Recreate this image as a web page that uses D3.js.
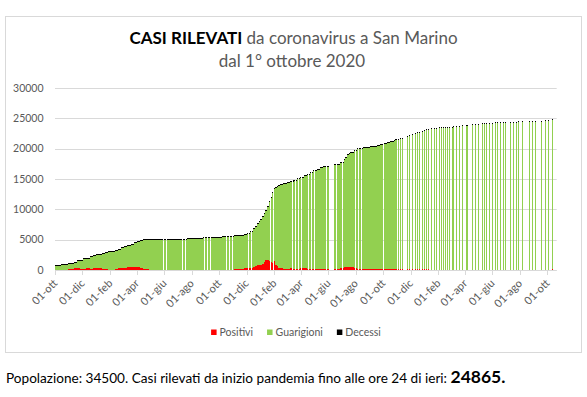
<!DOCTYPE html>
<html>
<head>
<meta charset="utf-8">
<script src="https://cdn.jsdelivr.net/npm/d3@7"></script>
<style>
  body { margin: 0; background: #fff; }
  svg { display: block; font-family: Lato, sans-serif; }
</style>
</head>
<body>
<div id="chart"></div>
<script>
// --- bollettini giornalieri (campioni settimanali, ogni barra copre fino al campione successivo)
const giornDate = [
  '2020-10-01','2020-10-08','2020-10-15','2020-10-22','2020-10-29','2020-11-05','2020-11-12','2020-11-19','2020-11-26','2020-12-03','2020-12-10','2020-12-17','2020-12-24','2020-12-31',
  '2021-01-07','2021-01-14','2021-01-21','2021-01-28','2021-02-04','2021-02-11','2021-02-18','2021-02-25','2021-03-04','2021-03-11','2021-03-18','2021-03-25','2021-04-01','2021-04-08','2021-04-15','2021-04-22','2021-04-29',
  '2021-05-13','2021-05-27','2021-06-10','2021-06-24','2021-07-08','2021-07-22','2021-07-29','2021-08-05','2021-08-19','2021-08-26','2021-09-09','2021-09-23','2021-09-30','2021-10-07','2021-10-14','2021-10-21','2021-10-28',
  '2021-11-04','2021-11-11','2021-11-18','2021-11-25','2021-12-02','2021-12-09','2021-12-16','2021-12-20','2021-12-24','2021-12-28','2021-12-31',
  '2022-01-04','2022-01-08','2022-01-12','2022-01-15','2022-01-19','2022-01-23','2022-01-26','2022-01-30','2022-02-03','2022-02-06','2022-02-10','2022-02-14','2022-02-21',
  '2022-03-01','2022-03-08','2022-03-15','2022-03-23','2022-03-30','2022-04-07','2022-04-14','2022-04-22','2022-04-29','2022-05-06','2022-05-14','2022-05-21',
  '2022-06-13','2022-06-20','2022-06-27','2022-07-05','2022-07-08','2022-07-12','2022-07-16','2022-07-20','2022-07-27',
  '2022-08-03','2022-08-11','2022-08-18','2022-08-26','2022-09-02','2022-09-09','2022-09-17','2022-09-24','2022-10-02','2022-10-09','2022-10-17','2022-10-24','2022-10-28'
];
const giornTotali = [
  740, 760, 790, 880, 1000, 1090, 1250, 1460, 1600, 1820, 1930, 2200, 2330, 2480,
  2610, 2780, 2890, 3010, 3110, 3250, 3420, 3620, 3830, 4060, 4270, 4480, 4700, 4900, 5010, 5030, 5040,
  5050, 5060, 5070, 5080, 5090, 5120, 5190, 5200, 5230, 5300, 5320, 5340, 5420, 5470, 5470, 5480, 5500,
  5690, 5710, 5750, 5850, 6070, 6400, 6840, 7200, 7610, 7950, 8320,
  8800, 9310, 9900, 10520, 11300, 12000, 12780, 13440, 13650, 13810, 13930, 14040, 14210,
  14370, 14590, 14800, 15030, 15300, 15530, 15790, 16120, 16400, 16620, 16850, 17010,
  17390, 17500, 17830, 18220, 18600, 19040, 19300, 19480, 19810,
  19980, 20080, 20190, 20240, 20360, 20410, 20570, 20690, 20850, 21020, 21230, 21400, 21510
];
const giornPositivi = [
  30, 40, 50, 80, 150, 220, 280, 250, 130, 240, 260, 150, 260, 250,
  260, 200, 90, 80, 80, 90, 280, 290, 300, 450, 470, 460, 450, 380, 120, 90, 30,
  15, 10, 10, 10, 15, 20, 25, 30, 30, 40, 30, 30, 40, 40, 40, 50, 60,
  100, 150, 200, 280, 350, 380, 550, 650, 800, 820, 850,
  1050, 1300, 1700, 1650, 1450, 1250, 1200, 1500, 900, 600, 350, 250, 200,
  230, 250, 240, 220, 250, 260, 240, 230, 220, 200, 180, 150,
  120, 200, 350, 480, 520, 550, 500, 450, 300,
  220, 180, 150, 130, 120, 130, 150, 170, 200, 190, 180, 170, 160
];
const giornDecessi = [
  42, 42, 42, 43, 44, 46, 48, 50, 52, 55, 57, 58, 60, 62,
  64, 66, 68, 70, 71, 72, 73, 74, 76, 79, 82, 85, 87, 88, 89, 90, 90,
  90, 90, 90, 90, 90, 90, 90, 90, 90, 90, 90, 90, 90, 90, 90, 90, 90,
  90, 90, 91, 91, 92, 92, 93, 93, 94, 95, 96,
  97, 98, 99, 100, 101, 102, 103, 104, 105, 105, 106, 106, 107,
  108, 108, 109, 109, 110, 110, 111, 111, 112, 112, 113, 113,
  113, 114, 114, 115, 115, 115, 116, 116, 116,
  117, 117, 117, 117, 118, 118, 118, 118, 119, 119, 119, 120, 120
];
const fineGiornalieri = '2022-11-01';
// giorni senza bollettino nel periodo giornaliero
const senzaBollettino = [
  '2021-05-30','2021-06-06','2021-07-11','2021-07-18','2021-08-29','2021-09-05','2021-09-12',
  '2021-10-17','2021-10-24','2021-10-31','2021-12-05','2021-12-12','2022-01-23','2022-01-30',
  '2022-03-13','2022-03-20','2022-03-27','2022-04-03','2022-04-10','2022-04-17','2022-04-24',
  '2022-05-01','2022-05-08','2022-05-15','2022-05-22','2022-05-29',
  '2022-06-03','2022-06-04','2022-06-05','2022-06-06','2022-06-07','2022-06-08','2022-06-09','2022-06-10','2022-06-11','2022-06-12',
  '2022-06-19','2022-07-03','2022-07-10','2022-07-31','2022-08-07','2022-08-14','2022-09-18','2022-09-25','2022-10-02'
];

// --- bollettini settimanali (da novembre 2022)
const settDate = [
  '2022-11-04','2022-11-08','2022-11-11','2022-11-23','2022-11-28','2022-12-05','2022-12-10','2022-12-15','2022-12-19','2022-12-26','2022-12-30',
  '2023-01-04','2023-01-09','2023-01-16','2023-01-22','2023-01-27','2023-02-02','2023-02-06','2023-02-10','2023-02-15','2023-02-16','2023-02-20','2023-02-24',
  '2023-03-02','2023-03-06','2023-03-12','2023-03-19','2023-03-25','2023-04-04','2023-04-05','2023-04-17','2023-04-24','2023-04-30',
  '2023-05-08','2023-05-13','2023-05-18','2023-05-25','2023-05-30','2023-06-06','2023-06-12','2023-06-18','2023-06-24','2023-06-29',
  '2023-07-11','2023-07-17','2023-07-24','2023-07-29','2023-08-05','2023-08-22','2023-08-28','2023-09-04','2023-09-18','2023-09-25',
  '2023-10-03','2023-10-11'
];
const settTotali = [
  21560, 21650, 21740, 22120, 22200, 22450, 22520, 22720, 22760, 22950, 23050,
  23130, 23200, 23440, 23440, 23440, 23450, 23450, 23460, 23600, 23600, 23600, 23610,
  23610, 23620, 23630, 23770, 23780, 23870, 23870, 23980, 24020, 24100,
  24260, 24260, 24270, 24270, 24270, 24280, 24280, 24280, 24290, 24290,
  24300, 24430, 24430, 24440, 24440, 24450, 24450, 24460, 24590, 24620,
  24760, 24865
];
const settPositivi = [
  150, 140, 130, 130, 120, 130, 120, 120, 110, 120, 110,
  100, 100, 40, 40, 40, 40, 40, 40, 40, 40, 40, 40,
  40, 40, 40, 40, 40, 40, 40, 40, 40, 40,
  40, 40, 40, 40, 40, 40, 40, 40, 40, 40,
  40, 40, 40, 40, 40, 40, 40, 40, 40, 40,
  40, 110
];
const settDecessi = [
  120, 120, 120, 120, 120, 120, 121, 121, 121, 121, 121,
  121, 122, 122, 122, 122, 122, 122, 122, 122, 122, 122, 123,
  123, 123, 123, 123, 123, 123, 123, 124, 124, 124,
  124, 124, 124, 124, 124, 125, 125, 125, 125, 125,
  125, 125, 125, 125, 125, 126, 126, 126, 126, 126,
  126, 126
];

const serie = ['positivi', 'guarigioni', 'decessi'];
const serieNomi = ['Positivi', 'Guarigioni', 'Decessi'];
const colori = ['#ff0000', '#92d050', '#000000'];
const yTicks = [0, 5000, 10000, 15000, 20000, 25000, 30000];
const mesiBrevi = ['gen', 'feb', 'mar', 'apr', 'mag', 'giu', 'lug', 'ago', 'set', 'ott', 'nov', 'dic'];
const dataInizio = '2020-10-01';
const dataFine = '2023-10-22';
const popolazione = 34500;
const casiTotali = 24865;

// ---------------------------------------------------------------
[[giornDate, giornTotali, giornPositivi, giornDecessi], [settDate, settTotali, settPositivi, settDecessi]]
  .forEach((g) => {
    if (g.some((a) => a.length !== g[0].length)) throw new Error('lunghezze diverse: ' + g.map((a) => a.length));
  });

const W = 587, H = 397;
const plot = { left: 55, right: 556.7, top: 88, bottom: 270 };
const parse = d3.utcParse('%Y-%m-%d');
const fmtDay = d3.utcFormat('%Y-%m-%d');
const locale = d3.timeFormatLocale({
  dateTime: '%A %e %B %Y, %X', date: '%d/%m/%Y', time: '%H:%M:%S', periods: ['AM', 'PM'],
  days: ['domenica', 'lunedì', 'martedì', 'mercoledì', 'giovedì', 'venerdì', 'sabato'],
  shortDays: ['dom', 'lun', 'mar', 'mer', 'gio', 'ven', 'sab'],
  months: ['gennaio', 'febbraio', 'marzo', 'aprile', 'maggio', 'giugno', 'luglio', 'agosto', 'settembre', 'ottobre', 'novembre', 'dicembre'],
  shortMonths: mesiBrevi,
});
const fmtTick = locale.utcFormat('%d-%b');

// records: one per run of consecutive reported days
const records = [];
const skip = new Set(senzaBollettino);
const rec = (s, e, tot, pos, dec) =>
  records.push({ start: s, end: e, positivi: pos, guarigioni: tot - pos - dec, decessi: dec });

giornDate.forEach((ds, i) => {
  const start = parse(ds);
  const end = parse(i < giornDate.length - 1 ? giornDate[i + 1] : fineGiornalieri);
  let runStart = null;
  for (let d = start; d < end; d = d3.utcDay.offset(d, 1)) {
    if (skip.has(fmtDay(d))) {
      if (runStart) { rec(runStart, d, giornTotali[i], giornPositivi[i], giornDecessi[i]); runStart = null; }
    } else if (!runStart) runStart = d;
  }
  if (runStart) rec(runStart, end, giornTotali[i], giornPositivi[i], giornDecessi[i]);
});
settDate.forEach((ds, i) => {
  const d = parse(ds);
  rec(d, d3.utcDay.offset(d, 1), settTotali[i], settPositivi[i], settDecessi[i]);
});

const x = d3.scaleUtc().domain([parse(dataInizio), parse(dataFine)]).range([plot.left, plot.right]);
const y = d3.scaleLinear().domain([0, 30000]).range([plot.bottom, plot.top]);

// pixel edges, at least 1px wide and 1px apart where a day is missing
records.forEach((r) => {
  r.x0 = Math.round(x(r.start));
  r.x1 = Math.max(r.x0 + 1, Math.round(x(r.end)));
});
for (let i = 0; i < records.length - 1; i++) {
  const a = records[i], b = records[i + 1];
  if (+a.end < +b.start && a.x1 >= b.x0) a.x1 = Math.max(a.x0 + 1, b.x0 - 1);
}

const svg = d3.select('#chart').append('svg').attr('width', W).attr('height', H);

// chart frame
svg.append('rect')
  .attr('x', 5.5).attr('y', 16.5).attr('width', 576).attr('height', 336)
  .attr('fill', '#fff').attr('stroke', '#d9d9d9');

// title
const title = svg.append('text')
  .attr('x', 293.5).attr('y', 44).attr('text-anchor', 'middle')
  .style('font-size', '17px').attr('fill', '#595959');
title.append('tspan').attr('font-weight', 'bold').attr('fill', '#000').text('CASI RILEVATI');
title.append('tspan').text(' da coronavirus a San Marino');
svg.append('text')
  .attr('x', 292).attr('y', 66.5).attr('text-anchor', 'middle')
  .style('font-size', '17px').attr('fill', '#595959')
  .text('dal 1° ottobre 2020');

// gridlines + y labels
svg.append('g').selectAll('line')
  .data(yTicks)
  .join('line')
  .attr('x1', plot.left).attr('x2', plot.right)
  .attr('y1', (d) => Math.round(y(d)) + 0.5).attr('y2', (d) => Math.round(y(d)) + 0.5)
  .attr('stroke', '#d9d9d9');
svg.append('g').selectAll('text')
  .data(yTicks)
  .join('text')
  .attr('x', 43.5).attr('y', (d) => y(d)).attr('dy', '0.35em')
  .attr('text-anchor', 'end').attr('fill', '#595959').style('font-size', '10.5px')
  .text((d) => d);

// stacked bars
const stacked = d3.stack().keys(serie)(records);
svg.append('g')
  .attr('shape-rendering', 'crispEdges')
  .selectAll('g')
  .data(stacked)
  .join('g')
  .attr('fill', (d, i) => colori[i])
  .selectAll('rect')
  .data((d) => d.map((p) => Object.assign(p, { key: d.key })))
  .join('rect')
  .attr('x', (d) => d.data.x0)
  .attr('width', (d) => d.data.x1 - d.data.x0)
  .attr('y', (d) => {
    const b = Math.round(y(d[0])), t = Math.round(y(d[1]));
    return d.key === 'decessi' ? Math.min(t, b - 1) : t;
  })
  .attr('height', (d) => {
    const b = Math.round(y(d[0])), t = Math.round(y(d[1]));
    return d.key === 'decessi' ? Math.max(1, b - t) : b - t;
  });

// x axis
const xTicks = d3.utcMonth.range(parse(dataInizio), parse(dataFine), 2);
const xAxis = svg.append('g');
xAxis.append('line')
  .attr('x1', plot.left).attr('x2', plot.right)
  .attr('y1', plot.bottom + 0.5).attr('y2', plot.bottom + 0.5)
  .attr('stroke', '#d9d9d9');
xAxis.selectAll('.tick')
  .data(xTicks)
  .join('line')
  .attr('class', 'tick')
  .attr('x1', (d) => Math.round(x(d)) + 0.5).attr('x2', (d) => Math.round(x(d)) + 0.5)
  .attr('y1', plot.bottom).attr('y2', plot.bottom + 5)
  .attr('stroke', '#d9d9d9');
xAxis.selectAll('.lbl')
  .data(xTicks)
  .join('text')
  .attr('class', 'lbl')
  .attr('transform', (d) => `translate(${x(d) + 3},${plot.bottom + 14}) rotate(-45)`)
  .attr('text-anchor', 'end').attr('fill', '#595959').style('font-size', '11px')
  .text((d) => fmtTick(d));

// legend
const legend = svg.append('g').attr('transform', 'translate(0,336)');
let lx = 0;
serieNomi.forEach((name, i) => {
  const g = legend.append('g').attr('transform', `translate(${lx},0)`);
  g.append('rect').attr('x', 0).attr('y', -6.5).attr('width', 5.5).attr('height', 5.5).attr('fill', colori[i]);
  const t = g.append('text').attr('x', 8.5).attr('y', 0).attr('fill', '#595959').style('font-size', '10.5px').text(name);
  lx += 8.5 + t.node().getComputedTextLength() + 14;
});
legend.attr('transform', `translate(${296 - (lx - 14) / 2},336)`);

// footnote
const note = svg.append('text').attr('x', 6).attr('y', 383).attr('fill', '#000').style('font-size', '13.6px');
note.append('tspan').text(`Popolazione: ${popolazione}. Casi rilevati da inizio pandemia fino alle ore 24 di ieri: `);
note.append('tspan').attr('font-weight', 'bold').style('font-size', '17.5px').text(casiTotali + '.');
</script>
</body>
</html>
